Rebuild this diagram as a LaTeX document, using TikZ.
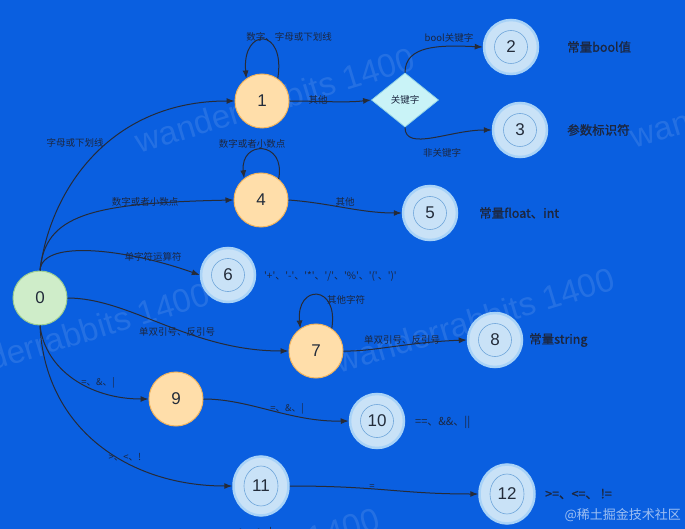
\documentclass[tikz,border=0pt]{standalone}
\usepackage{fontspec}
\setmainfont{Liberation Sans}
\newfontfamily\cjk{Noto Sans CJK SC}
\newfontfamily\cjkb[FakeBold=1.2]{Noto Sans CJK SC}
\usetikzlibrary{arrows.meta,shapes.geometric}
\definecolor{bg}{HTML}{0A5FE0}
\definecolor{peachf}{HTML}{FFDEAA}
\definecolor{peachd}{HTML}{F2B55E}
\definecolor{greenf}{HTML}{CFEDC9}
\definecolor{greend}{HTML}{9ACD93}
\definecolor{accf}{HTML}{C9E2F7}
\definecolor{accd}{HTML}{A9D3F7}
\definecolor{acci}{HTML}{6FA6DA}
\definecolor{diaf}{HTML}{C9F3F7}
\definecolor{diad}{HTML}{96D6E6}
\definecolor{edgec}{HTML}{262B38}
\definecolor{txt}{HTML}{1C2740}
\definecolor{numc}{HTML}{232C3A}
\tikzset{
  st/.style={circle, minimum size=54pt, inner sep=0pt, font=\fontsize{17}{17}\selectfont, text=numc},
  peach/.style={st, fill=peachf, draw=peachd, line width=1pt},
  startst/.style={st, fill=greenf, draw=greend, line width=1pt},
  acc/.style={st, fill=accf, draw=accd, line width=2.5pt,
     path picture={\draw[acci, line width=0.6pt] (path picture bounding box.center) circle (16.5pt);}},
  accell/.style={ellipse, minimum width=55pt, minimum height=59pt, inner sep=0pt,
     font=\fontsize{17}{17}\selectfont, text=numc, fill=accf, draw=accd, line width=2.5pt,
     path picture={\draw[acci, line width=0.6pt] (path picture bounding box.center) ellipse (17pt and 20pt);}},
  dia/.style={diamond, minimum width=67pt, minimum height=54pt, inner sep=0pt, fill=diaf, draw=diad,
     line width=0.8pt, font=\cjk\fontsize{9.5}{9.5}\selectfont, text=txt},
  arr/.style={draw=edgec, line width=1pt, -{Latex[length=8pt,width=6pt]}},
  elab/.style={font=\cjk\fontsize{9.5}{9.5}\selectfont, text=txt, inner sep=0pt},
  rlab/.style={font=\cjkb\fontsize{12.5}{12.5}\selectfont, text=txt, inner sep=0pt, anchor=west},
  wm/.style={font=\fontsize{33}{33}\selectfont, text=white, opacity=0.11, rotate=17, inner sep=0pt},
}
\begin{document}
\begin{tikzpicture}[x=1pt,y=-1pt]
\useasboundingbox (0,0) rectangle (685,529);
\clip (0,0) rectangle (685,529);
\fill[bg] (0,0) rectangle (685,529);

% watermarks
\node[wm] (w1) at (275,100) {wanderrabbits 1400};
\node[wm] (w2) at (70,335) {wanderrabbits 1400};
\node[wm] (w3) at (475,320) {wanderrabbits 1400};
\node[wm] (w4) at (770,95) {wanderrabbits 1400};
\node[wm] (w5) at (240,560) {wanderrabbits 1400};

% states
\node[startst] (n0) at (40,298) {0};
\node[peach] (n1) at (262,101) {1};
\node[dia] (d) at (405,100) {关键字};
\node[acc] (n2) at (511,47) {2};
\node[acc] (n3) at (520,130) {3};
\node[peach] (n4) at (261,200) {4};
\node[acc] (n5) at (430,213) {5};
\node[acc] (n6) at (228,275) {6};
\node[peach] (n7) at (316,351) {7};
\node[acc] (n8) at (495,340) {8};
\node[peach] (n9) at (176,399) {9};
\node[acc] (n10) at (377,421) {10};
\node[accell] (n11) at (261,486) {11};
\node[accell] (n12) at (507,494) {12};

% right labels
\node[rlab] (r2) at (567,47) {常量bool值};
\node[rlab] (r3) at (567,130) {参数标识符};
\node[rlab] (r5) at (479,213) {常量float、int};
\node[font=\cjk\fontsize{10}{10}\selectfont, text=txt, inner sep=0pt, anchor=west] (r6) at (264,276) {'+'、'-'、'*'、'/'、'\%'、'('、')'};
\node[rlab] (r8) at (529,340) {常量string};
\node[font=\cjk\fontsize{11}{11}\selectfont, text=txt, inner sep=0pt, anchor=west] (r10) at (415,422) {==、\&\&、||};
\node[rlab] (r12) at (545,494) {>=、<=、 !=};
\node[font=\cjk\fontsize{13}{13}\selectfont, text=white, opacity=0.6, inner sep=0pt, anchor=east] (wm2) at (681,515) {@稀土掘金技术社区};

% edges
\draw[arr] (n0.north) .. controls (50,190) and (110,101) .. (n1.west);
\draw[arr] (n0.north) .. controls (45,215) and (90,203) .. (n4.west);
\draw[arr] (n0.north) .. controls (42,238) and (130,250) .. (n6.west);
\draw[arr] (n0.east) .. controls (130,298) and (190,351) .. (n7.west);
\draw[arr] (n0.south) .. controls (45,370) and (90,399) .. (n9.west);
\draw[arr] (n0.south) .. controls (45,430) and (130,486) .. (n11.west);
\draw[arr] (n1.east) .. controls (320,101) and (345,103) .. (d.west);
\draw[arr] (d.north) .. controls (405,45) and (440,45) .. (n2.west);
\draw[arr] (d.south) .. controls (405,152) and (450,130) .. (n3.west);
\draw[arr] (n4.east) .. controls (330,203) and (360,213) .. (n5.west);
\draw[arr] (n7.east) .. controls (370,352) and (410,342) .. (n8.west);
\draw[arr] (n9.east) .. controls (250,399) and (290,422) .. (n10.west);
\draw[arr] (n11.east) .. controls (380,486) and (400,494) .. (n12.west);
% self loops
\draw[arr] (n1.55) .. controls (286,27) and (242,27) .. (n1.125);
\draw[arr] (n4.50) .. controls (286,140) and (240,140) .. (n4.128);
\draw[arr] (n7.55) .. controls (339,284) and (296,284) .. (n7.125);

% edge labels
\node[elab] (l1) at (289,37) {数字、字母或下划线};
\node[elab] (l2) at (318,100) {其他};
\node[elab] (l3) at (449,38) {bool关键字};
\node[elab] (l4) at (442,153) {非关键字};
\node[elab] (l5) at (75,143) {字母或下划线};
\node[elab] (l6) at (252,144) {数字或者小数点};
\node[elab] (l7) at (145,202) {数字或者小数点};
\node[elab] (l8) at (345,202) {其他};
\node[elab] (l9) at (153,257) {单字符运算符};
\node[elab] (l10) at (346,300) {其他字符};
\node[elab] (l11) at (177,332) {单双引号、反引号};
\node[elab] (l12) at (402,340) {单双引号、反引号};
\node[elab] (l13) at (98,383) {=、\&、|};
\node[elab] (l14) at (287,409) {=、\&、|};
\node[elab] (l15) at (125,457) {>、<、!};
\node[elab] (l16) at (372,487) {=};
\node[elab] (l17) at (256,531) {>、<、!};
\end{tikzpicture}
\end{document}
